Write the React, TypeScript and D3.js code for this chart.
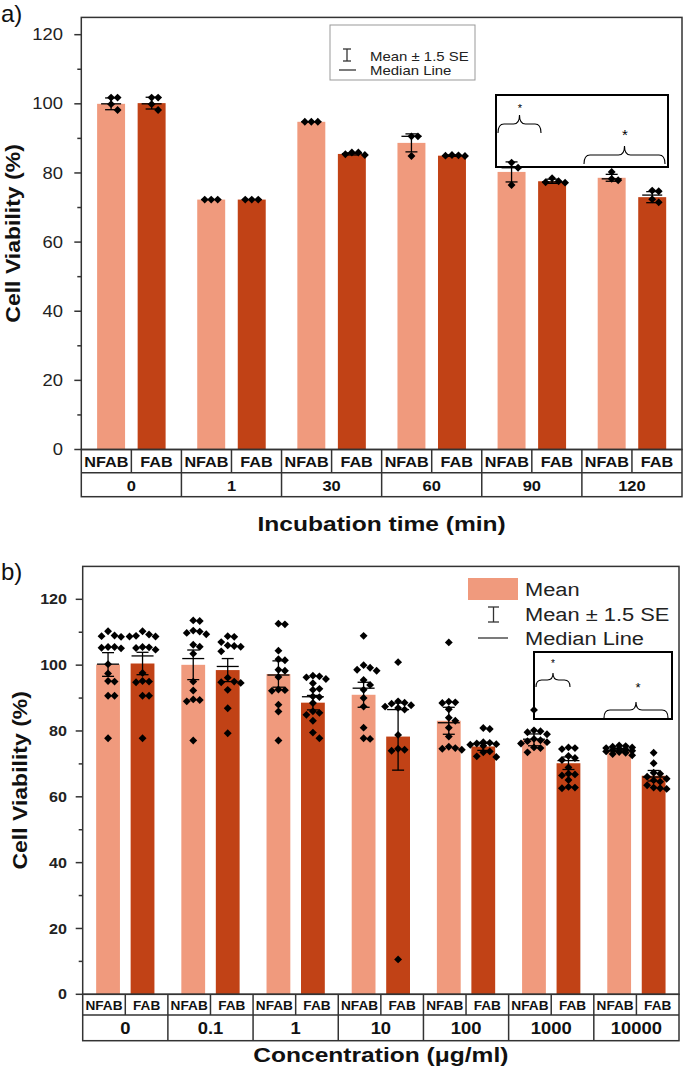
import * as d3 from 'd3'

const FONT = '"Liberation Sans", Arial, Helvetica, sans-serif'
const LIGHT = '#F09A7D'
const DARK = '#C14216'
const INK = '#000'
const AXIS = '#333'

const SAMPLES = ['NFAB', 'FAB']

// a) viability vs incubation time
const TIMES = ['0', '1', '30', '60', '90', '120']
const TIME_NFAB_MEAN = [100.0, 72.3, 94.8, 88.7, 80.3, 78.6]
const TIME_FAB_MEAN = [100.2, 72.3, 85.5, 85.0, 77.6, 73.0]
const TIME_NFAB_ERR = [1.7, 0, 0, 2.6, 2.9, 1.0]
const TIME_FAB_ERR = [1.7, 0, 0.3, 0.2, 0.6, 1.6]
const TIME_NFAB_MEDIAN = [100.0, 72.3, 94.8, 90.6, 81.5, 78.3]
const TIME_FAB_MEDIAN = [100.0, 72.3, 85.6, 85.0, 77.4, 73.6]
const TIME_NFAB_PTS = [
  [101.8, 101.8, 99.9, 98.2],
  [72.3, 72.3, 72.3],
  [94.8, 94.8, 94.8],
  [90.6, 90.6, 84.9],
  [83.0, 81.5, 76.5],
  [80.3, 78.3, 77.9],
]
const TIME_FAB_PTS = [
  [101.8, 101.8, 99.9, 98.2],
  [72.3, 72.3, 72.3],
  [85.9, 85.9, 85.4, 85.2],
  [85.2, 85.1, 85.0, 84.9],
  [78.5, 77.6, 77.3, 77.2],
  [74.9, 74.7, 72.4, 71.5],
]

// b) viability vs concentration
const CONCS = ['0', '0.1', '1', '10', '100', '1000', '10000']
const CONC_NFAB_MEAN = [100.2, 100.1, 97.3, 91.0, 83.1, 77.3, 74.2]
const CONC_FAB_MEAN = [100.5, 98.5, 88.6, 78.3, 75.3, 70.2, 66.4]
const CONC_NFAB_ERR = [3.6, 4.5, 4.0, 3.8, 4.1, 1.8, 0.5]
const CONC_FAB_ERR = [3.4, 3.5, 2.2, 10.2, 1.2, 1.9, 1.6]
const CONC_NFAB_MEDIAN = [100.3, 102.0, 97.0, 93.0, 82.5, 77.5, 74.0]
const CONC_FAB_MEDIAN = [102.8, 99.6, 90.4, 86.5, 76.2, 71.0, 66.0]
const CONC_NFAB_PTS = [
  [110.3, 109.0, 108.8, 108.6, 105.5, 105.5, 105.3, 105.1, 100.3, 97.5, 95.2, 95.0, 90.7, 90.7, 77.8],
  [113.6, 113.4, 110.5, 110.2, 109.8, 109.4, 106.2, 105.6, 103.5, 95.0, 92.3, 89.6, 89.4, 89.0, 77.1],
  [112.6, 112.4, 104.4, 101.8, 101.5, 98.6, 98.3, 96.4, 92.6, 92.4, 92.2, 88.0, 85.9, 77.1],
  [108.9, 100.0, 99.2, 98.6, 98.3, 95.5, 94.0, 92.5, 90.0, 87.4, 81.0, 77.8, 77.6],
  [106.9, 88.9, 88.7, 88.5, 86.6, 84.0, 83.1, 81.0, 78.3, 75.2, 74.8, 74.6, 74.3],
  [86.4, 80.2, 79.9, 79.6, 79.0, 77.6, 77.2, 76.9, 76.6, 76.2, 75.0, 74.8, 73.5],
  [75.6, 75.4, 75.2, 75.0, 74.8, 74.6, 74.4, 74.2, 74.0, 73.8, 73.6, 73.4, 73.0, 72.6],
]
const CONC_FAB_PTS = [
  [110.3, 109.3, 108.9, 108.7, 108.7, 105.5, 105.4, 105.2, 104.7, 97.6, 95.2, 95.0, 94.8, 90.7, 90.7, 77.8],
  [108.8, 108.6, 107.0, 106.0, 105.8, 105.6, 104.2, 96.2, 95.0, 94.8, 94.6, 92.5, 86.9, 79.3],
  [96.8, 96.6, 96.3, 95.8, 94.5, 92.8, 92.5, 90.5, 90.3, 88.5, 86.0, 85.5, 84.9, 83.1, 79.5, 77.8],
  [100.9, 89.0, 88.6, 88.3, 87.8, 87.4, 87.0, 86.5, 78.8, 74.6, 74.3, 74.0, 10.6],
  [80.9, 80.6, 76.6, 76.4, 76.2, 76.0, 75.8, 75.5, 73.8, 73.5, 72.3, 72.1],
  [75.0, 74.8, 74.5, 72.4, 71.8, 71.2, 68.9, 67.0, 66.8, 66.5, 65.1, 63.0, 62.8, 62.6],
  [73.4, 70.2, 67.3, 67.0, 66.1, 65.5, 65.0, 64.6, 63.5, 62.8, 62.6, 62.4],
]

type Bar = { mean: number; err: number; median: number; pts: number[] }

const zipBars = (mean: number[], err: number[], median: number[], pts: number[][]): Bar[] =>
  mean.map((m, i) => ({ mean: m, err: err[i], median: median[i], pts: pts[i] }))

const diamond = d3.symbol(d3.symbolSquare, 31)()

// spread replicates sideways (at most two slots each way) so overlapping diamonds stay visible
function swarm(vals: number[], y: (v: number) => number, step: number, minDist: number) {
  const placed: { x: number; y: number }[] = []
  const sorted = [...vals].sort((a, b) => b - a)
  const slots = [0, 1, -1, 2, -2].map(k => k * step)
  for (const v of sorted) {
    const py = y(v)
    let best = slots[0], bestGap = -1
    for (const off of slots) {
      const gap = placed.length ? Math.min(...placed.map(p => Math.hypot(p.x - off, p.y - py))) : Infinity
      if (gap >= minDist) { best = off; bestGap = gap; break }
      if (gap > bestGap) { best = off; bestGap = gap }
    }
    placed.push({ x: best, y: py })
  }
  return placed
}

function Txt({ x, y, size, weight = 'normal', anchor = 'middle', sx = 1.15, rotate = 0, fill = '#222', baseline, children }: any) {
  return (
    <text
      transform={`translate(${x},${y}) rotate(${rotate}) scale(${sx},1)`}
      fontSize={size} fontWeight={weight} textAnchor={anchor} fontFamily={FONT}
      fill={fill} dominantBaseline={baseline}
    >{children}</text>
  )
}

function Brace({ x1, x2, y, h }: { x1: number; x2: number; y: number; h: number }) {
  const xm = (x1 + x2) / 2
  const r = Math.min(6, (x2 - x1) / 6)
  const d = `M${x1},${y + h} Q${x1},${y} ${x1 + r},${y} L${xm - r},${y} Q${xm},${y} ${xm},${y - h}` +
    ` Q${xm},${y} ${xm + r},${y} L${x2 - r},${y} Q${x2},${y} ${x2},${y + h}`
  return <path d={d} fill="none" stroke={INK} strokeWidth={1.1} />
}

type PanelProps = {
  groups: string[]; nfab: Bar[]; fab: Bar[]
  left: number; right: number; zeroY: number; topY: number; yMax: number
  row1: number; row2: number
  tickSize: number; tickWeight: string; tickRight: number
  sampleSize: number; sampleSx: number; groupSize: number; groupSx: number
  cap: number; medW: number
  yTitleX: number; xTitle: string; xTitleY: number
}

function Panel(p: PanelProps) {
  const y = d3.scaleLinear().domain([0, p.yMax]).range([p.zeroY, p.topY])
  const x = d3.scaleBand().domain(p.groups).range([p.left, p.right])
  const inner = d3.scaleBand().domain(SAMPLES).range([0, x.bandwidth()]).paddingInner(0.31).paddingOuter(0.39)
  const major = d3.range(0, 121, 20)
  const minor = d3.range(10, p.yMax, 20)
  const tb1 = p.zeroY + p.row1
  const tb2 = tb1 + p.row2

  return (
    <g>
      {/* bars */}
      {p.groups.map((g, i) => SAMPLES.map((s, j) => {
        const b = (j === 0 ? p.nfab : p.fab)[i]
        return (
          <rect key={g + s} x={x(g)! + inner(s)!} width={inner.bandwidth()}
            y={y(b.mean)} height={y(0) - y(b.mean)} fill={j === 0 ? LIGHT : DARK} />
        )
      }))}

      {/* error bars, medians and replicates */}
      {p.groups.map((g, i) => SAMPLES.map((s, j) => {
        const b = (j === 0 ? p.nfab : p.fab)[i]
        const cx = x(g)! + inner(s)! + inner.bandwidth() / 2
        const hi = y(b.mean + b.err), lo = y(b.mean - b.err)
        const pts = swarm(b.pts, y, 6.5, 6.2)
        return (
          <g key={g + s + 'e'}>
            {b.err > 0 && (
              <g stroke={INK} strokeWidth={1.3}>
                <line x1={cx} x2={cx} y1={hi} y2={lo} />
                <line x1={cx - p.cap / 2} x2={cx + p.cap / 2} y1={hi} y2={hi} />
                <line x1={cx - p.cap / 2} x2={cx + p.cap / 2} y1={lo} y2={lo} />
              </g>
            )}
            <line x1={cx - p.medW / 2} x2={cx + p.medW / 2} y1={y(b.median)} y2={y(b.median)} stroke={INK} strokeWidth={1.3} />
            {pts.map((q, k) => (
              <path key={k} d={diamond} transform={`translate(${cx + q.x},${q.y}) rotate(45)`} fill={INK} />
            ))}
          </g>
        )
      }))}

      {/* frame */}
      <rect x={p.left} y={p.topY} width={p.right - p.left} height={p.zeroY - p.topY} fill="none" stroke={AXIS} strokeWidth={1.5} />

      {/* y axis ticks */}
      {major.map(v => (
        <g key={v}>
          <line x1={p.left - 7} x2={p.left} y1={y(v)} y2={y(v)} stroke={AXIS} strokeWidth={1.5} />
          <Txt x={p.tickRight} y={y(v)} size={p.tickSize} weight={p.tickWeight} anchor="end" baseline="central" fill="#222">{v}</Txt>
        </g>
      ))}
      {minor.map(v => (
        <line key={v} x1={p.left - 4} x2={p.left} y1={y(v)} y2={y(v)} stroke={AXIS} strokeWidth={1.5} />
      ))}

      {/* category table under the axis */}
      <g stroke={AXIS} strokeWidth={1.5} fill="none">
        <rect x={p.left} y={p.zeroY} width={p.right - p.left} height={p.row1 + p.row2} />
        <line x1={p.left} x2={p.right} y1={tb1} y2={tb1} />
        {p.groups.map((g, i) => (
          <g key={g}>
            {i > 0 && <line x1={x(g)} x2={x(g)} y1={p.zeroY} y2={tb2} />}
            <line x1={x(g)! + x.bandwidth() / 2} x2={x(g)! + x.bandwidth() / 2} y1={p.zeroY} y2={tb1} />
          </g>
        ))}
      </g>
      {p.groups.map(g => (
        <g key={g + 't'}>
          {SAMPLES.map((s, j) => (
            <Txt key={s} x={x(g)! + x.bandwidth() * (j === 0 ? 0.25 : 0.75)} y={p.zeroY + p.row1 / 2 + 1}
              size={p.sampleSize} sx={p.sampleSx} weight="bold" baseline="central" fill="#111">{s}</Txt>
          ))}
          <Txt x={x(g)! + x.bandwidth() / 2} y={tb1 + p.row2 / 2 + 1} size={p.groupSize} sx={p.groupSx}
            weight="bold" baseline="central" fill="#111">{g}</Txt>
        </g>
      ))}

      {/* axis titles */}
      <Txt x={p.yTitleX} y={(p.zeroY + p.topY) / 2} size={20} weight="bold" rotate={-90} fill="#111">Cell Viability (%)</Txt>
      <Txt x={(p.left + p.right) / 2} y={p.xTitleY} size={21} weight="bold" sx={1.17} fill="#111">{p.xTitle}</Txt>
    </g>
  )
}

export default function App() {
  const timeNfab = zipBars(TIME_NFAB_MEAN, TIME_NFAB_ERR, TIME_NFAB_MEDIAN, TIME_NFAB_PTS)
  const timeFab = zipBars(TIME_FAB_MEAN, TIME_FAB_ERR, TIME_FAB_MEDIAN, TIME_FAB_PTS)
  const concNfab = zipBars(CONC_NFAB_MEAN, CONC_NFAB_ERR, CONC_NFAB_MEDIAN, CONC_NFAB_PTS)
  const concFab = zipBars(CONC_FAB_MEAN, CONC_FAB_ERR, CONC_FAB_MEDIAN, CONC_FAB_PTS)

  return (
    <svg width={685} height={1076} style={{ position: 'absolute', left: 0, top: 0, background: '#fff' }}>
      <rect width={685} height={1076} fill="#fff" />

      {/* a) */}
      <Txt x={1} y={22} size={24} anchor="start" sx={1} fill="#111">a)</Txt>
      <Panel groups={TIMES} nfab={timeNfab} fab={timeFab}
        left={81.3} right={682} zeroY={449.5} topY={17.4} yMax={125}
        row1={23.2} row2={24}
        tickSize={16} tickWeight="normal" tickRight={63}
        sampleSize={15} sampleSx={1.08} groupSize={15} groupSx={1.1}
        cap={12} medW={20}
        yTitleX={20} xTitle="Incubation time (min)" xTitleY={531} />
      <rect x={330} y={25} width={145} height={55} fill="#fff" stroke="#999" strokeWidth={1} />
      <g stroke="#333" strokeWidth={1.3}>
        <line x1={347} x2={347} y1={49} y2={61} />
        <line x1={343} x2={351} y1={49} y2={49} />
        <line x1={343} x2={351} y1={61} y2={61} />
        <line x1={339} x2={356} y1={70} y2={70} />
      </g>
      <Txt x={370} y={56} size={13} anchor="start" baseline="central">Mean ± 1.5 SE</Txt>
      <Txt x={370} y={70} size={13} anchor="start" baseline="central">Median Line</Txt>
      <rect x={496} y={95} width={172} height={72} fill="none" stroke={INK} strokeWidth={2} />
      <Brace x1={498} x2={541} y={124} h={9} />
      <Txt x={520} y={112} size={11} sx={1} fill={INK}>*</Txt>
      <Brace x1={584} x2={665} y={155} h={9} />
      <Txt x={625} y={140} size={15} sx={1} fill={INK}>*</Txt>

      {/* b) */}
      <Txt x={1} y={580} size={24} anchor="start" sx={1} fill="#111">b)</Txt>
      <Panel groups={CONCS} nfab={concNfab} fab={concFab}
        left={82.7} right={679} zeroY={994.3} topY={566.4} yMax={130}
        row1={20.7} row2={25.7}
        tickSize={14} tickWeight="bold" tickRight={67}
        sampleSize={13} sampleSx={1.05} groupSize={16} groupSx={1.15}
        cap={12} medW={22}
        yTitleX={27} xTitle="Concentration (μg/ml)" xTitleY={1062} />
      <rect x={468} y={578} width={50} height={22} fill={LIGHT} />
      <g stroke="#333" strokeWidth={1.3}>
        <line x1={493.5} x2={493.5} y1={607} y2={622} />
        <line x1={488} x2={499} y1={607} y2={607} />
        <line x1={488} x2={499} y1={622} y2={622} />
        <line x1={478} x2={508} y1={638} y2={638} />
      </g>
      <Txt x={525} y={589} size={19} anchor="start" baseline="central">Mean</Txt>
      <Txt x={525} y={614} size={19} anchor="start" baseline="central">Mean ± 1.5 SE</Txt>
      <Txt x={525} y={638} size={19} anchor="start" baseline="central">Median Line</Txt>
      <rect x={534} y={652} width={138} height={67} fill="none" stroke={INK} strokeWidth={2} />
      <Brace x1={536} x2={570} y={680} h={7} />
      <Txt x={553} y={667} size={10} sx={1} fill={INK}>*</Txt>
      <Brace x1={604} x2={668} y={710} h={8} />
      <Txt x={638} y={692} size={13} sx={1} fill={INK}>*</Txt>
    </svg>
  )
}
